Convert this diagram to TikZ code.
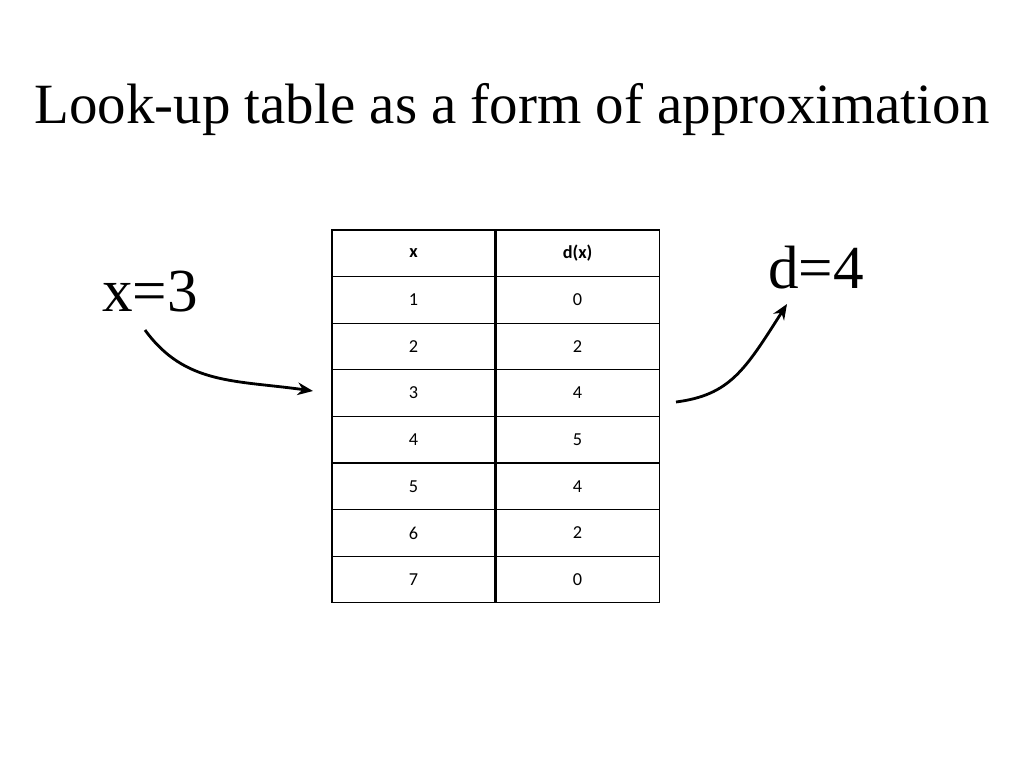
\documentclass[tikz,border=0pt]{standalone}
\usepackage{fontspec}
\setmainfont{Liberation Serif}
\newfontfamily\cellfont{Carlito}
\usetikzlibrary{arrows.meta, positioning, calc}

\begin{document}
\begin{tikzpicture}[
    x=0.05cm, y=-0.05cm,
    cell/.style={rectangle, draw, line width=1.6pt, minimum width=8.15cm, minimum height=2.33cm, inner sep=0pt, font=\cellfont\fontsize{26}{30}\selectfont},
    big/.style={font=\fontsize{87}{100}\selectfont, inner sep=0pt},
    arrow/.style={-{Stealth[length=22pt,width=18pt]}, line width=4pt}
]
    \useasboundingbox (0,0) rectangle (1024,768);

    % Title
    \node[font=\fontsize{81}{95}\selectfont] (title) at (512,110) {Look-up table as a form of approximation};

    % Table
    \node[cell] (h1) at (413.5,253.3) {\textbf{x}};
    \node[cell, right=0pt of h1] (h2) {\textbf{d(x)}};
    \foreach \k/\v [count=\i] in {1/0,2/2,3/4,4/5,5/4,6/2,7/0} {
        \node[cell] (a\i) at (413.5,{253.3+46.6*\i}) {\k};
        \node[cell, right=0pt of a\i] (b\i) {\v};
    }

    % Input and output
    \node[big] (xin) at (150,292) {x=3};
    \node[big] (dout) at (816,268) {d=4};

    \coordinate (xs) at (145,330);
    \coordinate (xe) at (313,391);
    \coordinate (ds) at (676,402);
    \coordinate (de) at (787,304);

    % Arrows
    \draw[arrow] (xs) .. controls (185,385) and (235,380) .. (xe);
    \draw[arrow] (ds) .. controls (730,395) and (745,370) .. (de);
\end{tikzpicture}
\end{document}
